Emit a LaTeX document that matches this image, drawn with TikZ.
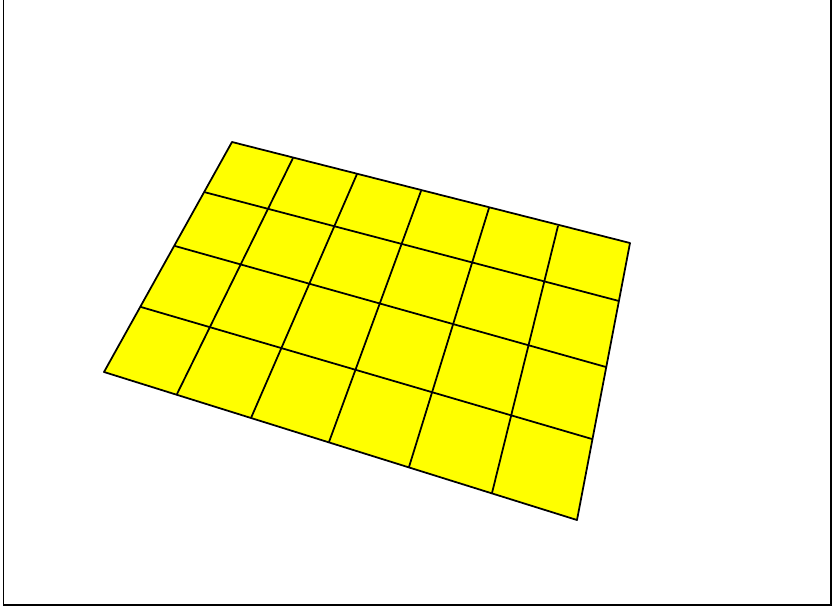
\documentclass[tikz,border=0pt]{standalone}
\usepackage{xcolor}
\usepackage{tikz}
\usetikzlibrary{calc}
\definecolor{tileyellow}{RGB}{255,255,0}

\begin{document}
\begin{tikzpicture}[x=0.03cm, y=-0.03cm, line width=1.5pt]
    \useasboundingbox (0,0) rectangle (834,607);

    % Frame (open at the top)
    \draw (3.5,0) -- (3.5,605) -- (831,605) -- (831,0);

    % Edge points of the tilted board
    \foreach \n/\x/\y in {0/232/142, 1/293/158, 2/357/174, 3/421/191, 4/489/208, 5/558/226, 6/630/243} {
        \coordinate (t\n) at (\x,\y);
    }
    \foreach \n/\x/\y in {0/104/372, 1/177/394, 2/251/418, 3/329/442, 4/409/467, 5/492/493, 6/577/520} {
        \coordinate (b\n) at (\x,\y);
    }
    \foreach \n/\x/\y in {1/204/192, 2/175/246, 3/141/307} {
        \coordinate (l\n) at (\x,\y);
    }
    \foreach \n/\x/\y in {1/619/301, 2/606/367, 3/592/439} {
        \coordinate (r\n) at (\x,\y);
    }

    % Board
    \filldraw[fill=tileyellow, draw=black, line join=round] (t0) -- (t6) -- (b6) -- (b0) -- cycle;

    % Columns
    \foreach \i in {1,...,5} {
        \draw (t\i) -- (b\i);
    }

    % Rows
    \foreach \j in {1,2,3} {
        \draw (l\j) -- (r\j);
    }
\end{tikzpicture}
\end{document}
